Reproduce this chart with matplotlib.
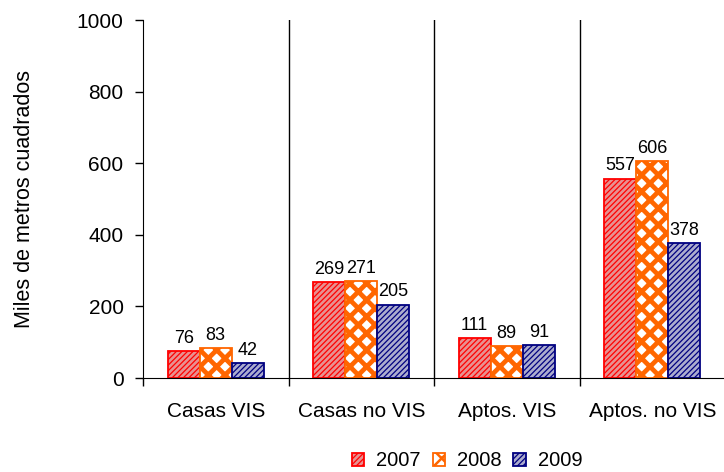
import matplotlib
matplotlib.use("Agg")
import matplotlib.pyplot as plt
import numpy as np

plt.rcParams['font.family'] = ['Liberation Sans', 'DejaVu Sans']
plt.rcParams['hatch.linewidth'] = 1.0

categories = ["Casas VIS", "Casas no VIS", "Aptos. VIS", "Aptos. no VIS"]
years = ["2007", "2008", "2009"]
v2007 = [76, 269, 111, 557]
v2008 = [83, 271, 89, 606]
v2009 = [42, 205, 91, 378]
series = [v2007, v2008, v2009]

styles = [
    dict(facecolor="#E89090", edgecolor="#FF0000", hatch="//////"),
    dict(facecolor="white", edgecolor="#FF6600", hatch="xx"),
    dict(facecolor="#ACACCE", edgecolor="#000080", hatch="//////"),
]
hatch_lw = [0.9, 3.4, 0.9]

fig = plt.figure(figsize=(7.24, 4.72), dpi=100)
ax = fig.add_axes([143/724, 94/472, 582/724, 358/472])

x = np.arange(len(categories))
w = 0.22
offsets = [-w, 0, w]
for vals, off, st, yr, hlw in zip(series, offsets, styles, years, hatch_lw):
    bars = ax.bar(x + off, vals, width=w, linewidth=1.3, label=yr, **st)
    for b, v in zip(bars, vals):
        if hasattr(b, "set_hatch_linewidth"):
            b.set_hatch_linewidth(hlw)
        ax.annotate(str(v), (b.get_x() + b.get_width()/2, v), xytext=(0, 3),
                    textcoords="offset points", ha="center", va="bottom", fontsize=13)

ax.set_xlim(-0.5, len(categories) - 0.5)
ax.set_ylim(0, 1000)
ax.set_yticks(np.arange(0, 1001, 200))
ax.tick_params(axis='y', labelsize=15, direction='out', length=6, width=1, pad=8)
ax.set_xticks(x)
ax.set_xticklabels(categories, fontsize=15)
ax.tick_params(axis='x', which='major', length=0, pad=17)
ax.set_xticks(np.arange(-0.5, len(categories), 1), minor=True)
ax.tick_params(axis='x', which='minor', direction='out', length=6, width=1)
for b in np.arange(0.5, len(categories) - 0.5, 1):
    ax.axvline(b, color='black', linewidth=1, zorder=0)

ax.spines['top'].set_visible(False)
ax.spines['right'].set_visible(False)
ax.set_ylabel("Miles de metros cuadrados", fontsize=15.5, labelpad=30)

leg = fig.legend(loc='center', bbox_to_anchor=(467/724, 1 - 461/472), ncol=3, frameon=False,
                 fontsize=14.5, handlelength=0.6, handleheight=0.6, handletextpad=0.6,
                 columnspacing=0.6)
for h, hlw in zip(leg.legend_handles, hatch_lw):
    if hasattr(h, "set_hatch_linewidth"):
        h.set_hatch_linewidth(min(hlw, 1.8))

fig.savefig("out.png", dpi=100)
